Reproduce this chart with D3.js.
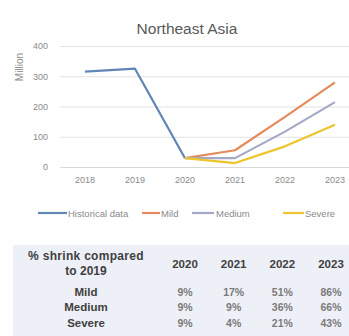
<!DOCTYPE html>
<html>
<head>
<meta charset="utf-8">
<script src="https://cdn.jsdelivr.net/npm/d3@7"></script>
<style>
  html, body { margin: 0; padding: 0; background: #ffffff; }
  svg { display: block; font-family: "Liberation Sans", Arial, sans-serif; }
</style>
</head>
<body>
<svg id="chart" width="349" height="336"></svg>
<script>
// Passenger volume, Northeast Asia (millions)
const years = ["2018", "2019", "2020", "2021", "2022", "2023"];
const historical = [315, 325, 29];
const scenarioYears = ["2020", "2021", "2022", "2023"];
// Recovery as % of the 2019 level, per scenario
const mildPct = [9, 17, 51, 86];
const mediumPct = [9, 9, 36, 66];
const severePct = [9, 4, 21, 43];
const yTicks = [0, 100, 200, 300, 400];
const scenarioNames = ["Mild", "Medium", "Severe"];

const base2019 = historical[1];
const toValues = pct => pct.map(p => p / 100 * base2019);

const series = [
  { name: "Historical data", color: "#5f86b4", x: years.slice(0, 3), y: historical },
  { name: "Mild", color: "#e58a5c", x: scenarioYears, y: toValues(mildPct) },
  { name: "Medium", color: "#a3a9c6", x: scenarioYears, y: toValues(mediumPct) },
  { name: "Severe", color: "#ecc42c", x: scenarioYears, y: toValues(severePct) }
];

const svg = d3.select("#chart");

const x = d3.scaleBand().domain(years).range([60, 360]);
const y = d3.scaleLinear().domain([0, 400]).range([167, 46]);
const cx = d => x(d) + x.bandwidth() / 2;

// Title
svg.append("text")
  .attr("x", 187).attr("y", 34)
  .attr("text-anchor", "middle")
  .attr("font-size", 15.5)
  .attr("fill", "#595959")
  .text("Northeast Asia");

// Y axis with gridlines
const yAxis = d3.axisLeft(y).tickValues(yTicks).tickSize(-(349 - 60)).tickPadding(12);
const gy = svg.append("g").attr("transform", "translate(60,0)").call(yAxis);
gy.select(".domain").remove();
gy.selectAll(".tick line").attr("stroke", "#e2e2e2").attr("stroke-width", 1);
gy.selectAll(".tick text").attr("fill", "#8a8a8a").attr("font-size", 9)
  .attr("font-family", "Liberation Sans, Arial, sans-serif");

// Y axis title
svg.append("text")
  .attr("transform", "translate(23,67) rotate(-90)")
  .attr("text-anchor", "middle")
  .attr("font-size", 10)
  .attr("fill", "#8a8a8a")
  .text("Million");

// X axis labels
const xAxis = d3.axisBottom(x).tickSize(0).tickPadding(10);
const gx = svg.append("g").attr("transform", "translate(0,167)").call(xAxis);
gx.select(".domain").attr("stroke", "#d9d9d9");
gx.selectAll(".tick text").attr("fill", "#8a8a8a").attr("font-size", 9)
  .attr("font-family", "Liberation Sans, Arial, sans-serif");

// Lines
const line = d3.line().x(d => cx(d[0])).y(d => y(d[1]));
series.forEach(s => {
  svg.append("path")
    .datum(s.x.map((yr, i) => [yr, s.y[i]]))
    .attr("d", line)
    .attr("fill", "none")
    .attr("stroke", s.color)
    .attr("stroke-width", 2.2)
    .attr("stroke-linejoin", "round");
});

// Legend
const legendItems = [
  { x0: 38, x1: 67, tx: 68 },
  { x0: 142, x1: 160, tx: 161 },
  { x0: 192, x1: 214, tx: 216 },
  { x0: 283, x1: 304, tx: 305 }
];
const lg = svg.append("g");
series.forEach((s, i) => {
  const it = legendItems[i];
  lg.append("line")
    .attr("x1", it.x0).attr("x2", it.x1).attr("y1", 213).attr("y2", 213)
    .attr("stroke", s.color).attr("stroke-width", 2.2);
  lg.append("text")
    .attr("x", it.tx).attr("y", 216.5)
    .attr("font-size", 9.5)
    .attr("fill", "#8a8a8a")
    .text(s.name);
});

// Table of shrink percentages
svg.append("rect")
  .attr("x", 13).attr("y", 245).attr("width", 336).attr("height", 91)
  .attr("fill", "#eef0f7");

const colX = d3.scalePoint().domain(scenarioYears).range([185, 331]);
const labelX = 86;
const tbl = svg.append("g").attr("font-weight", "bold").attr("fill", "#404040");

tbl.append("text").attr("x", labelX).attr("y", 260).attr("text-anchor", "middle")
  .attr("font-size", 12).attr("letter-spacing", 0.3).text("% shrink compared");
tbl.append("text").attr("x", labelX).attr("y", 275).attr("text-anchor", "middle")
  .attr("font-size", 12).text("to 2019");

scenarioYears.forEach(yr => {
  tbl.append("text").attr("x", colX(yr)).attr("y", 268).attr("text-anchor", "middle")
    .attr("font-size", 11.5).text(yr);
});

const rows = [mildPct, mediumPct, severePct];
const rowY = [296, 311, 327];
rows.forEach((vals, r) => {
  tbl.append("text").attr("x", labelX).attr("y", rowY[r]).attr("text-anchor", "middle")
    .attr("font-size", 11.5).text(scenarioNames[r]);
  vals.forEach((v, c) => {
    tbl.append("text").attr("x", colX(scenarioYears[c])).attr("y", rowY[r])
      .attr("text-anchor", "middle")
      .attr("font-size", 10.5)
      .attr("fill", "#7a7a7a")
      .text(v + "%");
  });
});
</script>
</body>
</html>
